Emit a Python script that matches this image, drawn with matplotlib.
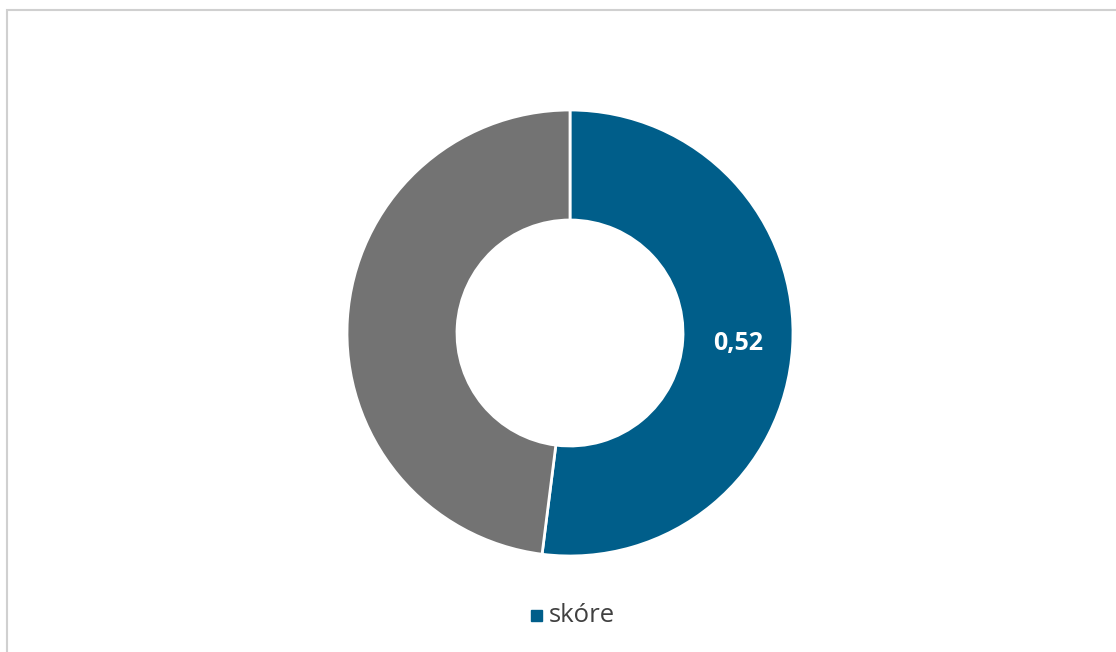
import matplotlib.pyplot as plt
from matplotlib.patches import Rectangle
import numpy as np

# data
values = [0.52, 0.48]
labels = ['0,52', '']
series_name = 'skóre'
colors = ['#005E8A', '#737373']

W, H = 1116, 652
fig = plt.figure(figsize=(W / 100, H / 100), dpi=100)
ax = fig.add_axes([0, 0, 1, 1])

# chart geometry in pixels (y measured from the bottom)
cx, cy = 570, H - 333
r_out, r_in = 223, 113

wedges, _ = ax.pie(values, colors=colors, startangle=90, counterclock=False,
                   center=(cx, cy), radius=r_out, frame=True,
                   wedgeprops=dict(width=r_out - r_in, edgecolor='white', linewidth=2))
ax.set_xlim(0, W)
ax.set_ylim(0, H)
ax.set_aspect('equal')
ax.axis('off')

# outer chart border (Excel-like)
ax.add_patch(Rectangle((6.5, -20), W + 20, H - 9.5 + 20, fill=False,
                       edgecolor='#D0D0D0', lw=1.5))

# data label in the middle of the blue wedge
for w, lab in zip(wedges, labels):
    if not lab:
        continue
    ang = np.deg2rad((w.theta1 + w.theta2) / 2)
    rm = (r_out + r_in) / 2
    ax.text(cx + rm * np.cos(ang), cy + rm * np.sin(ang), lab,
            ha='center', va='center', color='white', fontsize=18,
            fontweight='bold', family='Open Sans')

# legend
ax.add_patch(Rectangle((531, H - 621), 11, 11, color=colors[0]))
ax.text(549, H - 616, series_name, ha='left', va='center', fontsize=18.5,
        color='#404040', family='Open Sans')

fig.savefig('out.png', dpi=100)
